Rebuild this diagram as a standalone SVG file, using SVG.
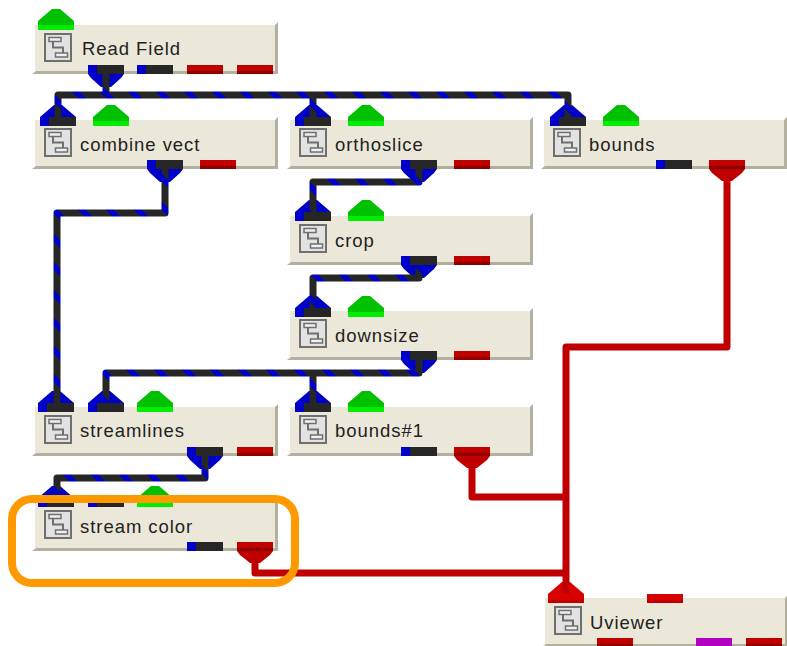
<svg xmlns="http://www.w3.org/2000/svg" xmlns:xlink="http://www.w3.org/1999/xlink" width="787" height="646" viewBox="0 0 787 646">
<style>
text{font-family:"Liberation Sans","DejaVu Sans",sans-serif;font-size:18.5px;fill:#222;letter-spacing:.95px}
.w{fill:none;stroke-width:7;stroke-linejoin:round}
.d{stroke:url(#st)}
.r{stroke:#c00000}
</style>
<defs>
<pattern id="st" patternUnits="userSpaceOnUse" width="28" height="28" patternTransform="translate(8 0) skewX(45)">
<rect width="28" height="28" fill="#262626"/><rect width="8" height="28" fill="#0000c8"/>
</pattern>
<g id="body">
<path d="M-3 49L1 46H240V0L243 -3V49Z" fill="#b3b09f"/>
<rect x="0" y="0" width="240" height="46" fill="#ebe8d9"/>
<rect x="10" y="9" width="26" height="27" fill="#e2e2e2" stroke="#6f6f6f" stroke-width="2"/>
<path d="M18 16.500V22.500H28V28" fill="none" stroke="#6f6f6f" stroke-width="2"/>
<rect x="14" y="12.500" width="12" height="4" fill="#f0f0f0" stroke="#6f6f6f" stroke-width="1.500"/>
<rect x="20.500" y="28" width="12" height="4" fill="#f0f0f0" stroke="#6f6f6f" stroke-width="1.500"/>
</g>
<g id="dbar"><rect width="36" height="9" fill="#262626"/><rect width="9" height="9" fill="#0000c8"/></g>
<g id="rbar"><rect width="36" height="9" fill="#c00000"/><rect y="6" width="36" height="3" fill="#8c0000"/></g>
<g id="rbri"><rect width="36" height="9" fill="#d80000"/><rect y="6" width="36" height="3" fill="#c00000"/></g>
<g id="mbar"><rect width="36" height="9" fill="#b000c0"/></g>
<g id="gin"><path d="M0 0L14 -12H22L36 0Z" fill="#00c000"/><rect width="36" height="9" fill="#00c000"/><rect y="4" width="36" height="5" fill="#00ee00"/></g>
<g id="din"><path d="M0 0L14 -12H22L36 0Z" fill="#0000c8"/><use href="#dbar"/></g>
<g id="dout"><path d="M0 9L3 13L13 22H23L33 13L36 9Z" fill="#0000c8"/><use href="#dbar"/></g>
<g id="rout"><path d="M0 9L3 13L13 21H23L33 13L36 9Z" fill="#c00000"/><rect width="36" height="9" fill="#c00000"/><rect y="6" width="36" height="3" fill="#8c0000"/></g>
<g id="rin"><path d="M0 0L14 -12H22L36 0Z" fill="#d80000"/><use href="#rbri"/></g>
</defs>

<g id="node-read-field"><use href="#body" x="35" y="25"/><text x="82" y="55">Read Field</text>
<use href="#gin" x="38" y="21"/><use href="#dout" x="88" y="65"/><use href="#dbar" x="137" y="65"/><use href="#rbar" x="187" y="65"/><use href="#rbar" x="237" y="65"/></g>

<g id="node-combine-vect"><use href="#body" x="35" y="120"/><text x="80" y="151">combine vect</text>
<use href="#din" x="40" y="117"/><use href="#gin" x="93" y="117"/><use href="#dout" x="147" y="160"/><use href="#rbar" x="200" y="160"/></g>

<g id="node-orthoslice"><use href="#body" x="290" y="120"/><text x="335" y="151">orthoslice</text>
<use href="#din" x="295" y="117"/><use href="#gin" x="348" y="117"/><use href="#dout" x="401" y="160"/><use href="#rbar" x="454" y="160"/></g>

<g id="node-bounds"><use href="#body" x="544" y="120"/><text x="589" y="151">bounds</text>
<use href="#din" x="550" y="117"/><use href="#gin" x="603" y="117"/><use href="#dbar" x="656" y="160"/><use href="#rout" x="709" y="160"/></g>

<g id="node-crop"><use href="#body" x="290" y="216"/><text x="335" y="247">crop</text>
<use href="#din" x="295" y="212"/><use href="#gin" x="348" y="212"/><use href="#dout" x="401" y="256"/><use href="#rbar" x="454" y="256"/></g>

<g id="node-downsize"><use href="#body" x="290" y="311"/><text x="335" y="342">downsize</text>
<use href="#din" x="295" y="308"/><use href="#gin" x="348" y="308"/><use href="#dout" x="401" y="351"/><use href="#rbar" x="454" y="351"/></g>

<g id="node-streamlines"><use href="#body" x="35" y="407"/><text x="80" y="437">streamlines</text>
<use href="#din" x="38" y="403"/><use href="#din" x="88" y="403"/><use href="#gin" x="137" y="403"/><use href="#dout" x="187" y="447"/><use href="#rbar" x="237" y="447"/></g>

<g id="node-bounds1"><use href="#body" x="290" y="407"/><text x="335" y="437">bounds#1</text>
<use href="#din" x="295" y="403"/><use href="#gin" x="348" y="403"/><use href="#dbar" x="401" y="447"/><use href="#rout" x="454" y="447"/></g>

<g id="node-stream-color"><use href="#body" x="35" y="502"/><text x="80" y="533">stream color</text>
<use href="#din" x="38" y="498"/><use href="#dbar" x="88" y="498"/><use href="#gin" x="137" y="498"/><use href="#dbar" x="187" y="542"/><use href="#rout" x="237" y="542"/></g>

<g id="node-uviewer"><use href="#body" x="545" y="598"/><text x="590" y="629">Uviewer</text>
<use href="#rin" x="548" y="594"/><use href="#rbri" x="647" y="594"/><use href="#rbar" x="597" y="638"/><use href="#mbar" x="696" y="638"/><use href="#rbar" x="746" y="638"/></g>

<g id="connectors">
<path class="w d" d="M106 74V95H58V117M106 95H568V117M313 95V117"/>
<path class="w d" d="M165 169V213H57V403"/>
<path class="w d" d="M419 169V182H313V212"/>
<path class="w d" d="M419 265V278H313V308"/>
<path class="w d" d="M419 360V373H106V403M313 373V403"/>
<path class="w d" d="M205 456V478H57V498"/>
<path class="w r" d="M727 169V347H566V594"/>
<path class="w r" d="M472 456V497H566"/>
<path class="w r" d="M255 551V573H566"/>
</g>
<rect id="highlight" x="12" y="499" width="283" height="84" rx="20" fill="none" stroke="#ff9900" stroke-width="8"/>
</svg>
